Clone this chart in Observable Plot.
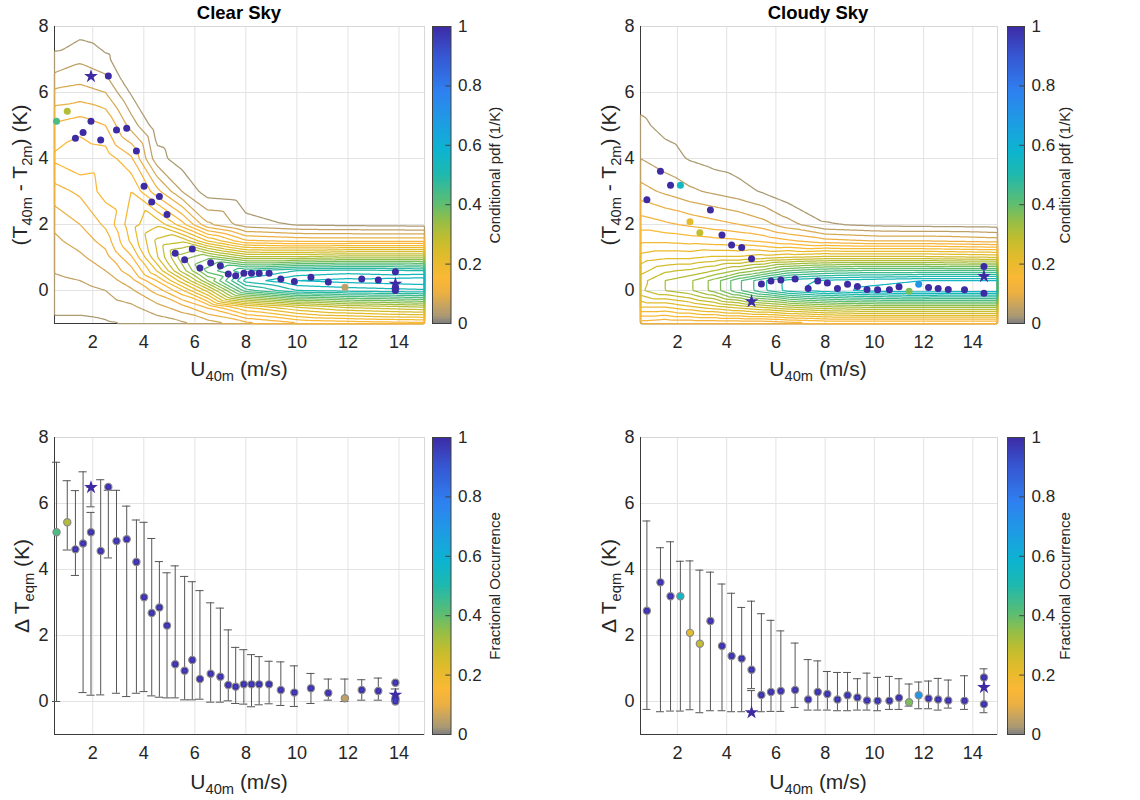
<!DOCTYPE html>
<html><head><meta charset="utf-8">
<script src="https://cdn.jsdelivr.net/npm/d3@7"></script>
<script src="https://cdn.jsdelivr.net/npm/@observablehq/plot@0.6"></script>
<style>
body{margin:0;background:#fff;}
#root{position:relative;width:1140px;height:800px;font-family:"Liberation Sans",Arial,Helvetica,sans-serif;color:#262626;overflow:hidden;background:#fff}
#root svg{position:absolute;overflow:visible}
.lbl{position:absolute;white-space:nowrap;transform:translate(-50%,-50%);line-height:1}
.rot{transform:translate(-50%,-50%) rotate(-90deg)}
.title{font-weight:bold;font-size:18.5px;color:#000}
.axl{font-size:21px}
.cbl{font-size:15px}
sub{font-size:70%;vertical-align:-0.35em;line-height:0}
</style></head><body><div id="root"></div><script>
// ---------- data ----------
// conditional pdf grid (1/K), columns at wind speeds gridU, rows at gridT (top to bottom)
const gridU = [0.5, 1.5, 2.5, 3.5, 4.5, 5.5, 6.5, 8, 10, 12, 15];
const gridT = [8, 7, 6, 5, 4, 3, 2, 1.5, 1, 0.6, 0.3, 0, -0.5, -1];
const clearPdf = [
  [0.01, 0.03, 0.08, 0.13, 0.155, 0.115, 0.08, 0.07, 0.06, 0.052, 0.045, 0.04, 0.03, 0.02],
  [0.012, 0.045, 0.085, 0.14, 0.17, 0.13, 0.1, 0.085, 0.07, 0.058, 0.05, 0.042, 0.03, 0.02],
  [0.005, 0.03, 0.075, 0.125, 0.165, 0.16, 0.13, 0.11, 0.09, 0.075, 0.06, 0.05, 0.035, 0.022],
  [0, 0.004, 0.022, 0.065, 0.13, 0.175, 0.19, 0.18, 0.145, 0.115, 0.09, 0.07, 0.045, 0.026],
  [0, 0, 0.003, 0.01, 0.035, 0.11, 0.22, 0.255, 0.245, 0.2, 0.15, 0.11, 0.065, 0.035],
  [0, 0, 0, 0.004, 0.012, 0.05, 0.16, 0.27, 0.34, 0.31, 0.24, 0.17, 0.09, 0.045],
  [0, 0, 0, 0, 0.004, 0.012, 0.08, 0.2, 0.37, 0.41, 0.35, 0.26, 0.13, 0.06],
  [0, 0, 0, 0, 0.002, 0.006, 0.035, 0.13, 0.31, 0.47, 0.51, 0.44, 0.2, 0.09],
  [0, 0, 0, 0, 0, 0.003, 0.022, 0.12, 0.31, 0.5, 0.55, 0.5, 0.25, 0.12],
  [0, 0, 0, 0, 0, 0.002, 0.018, 0.12, 0.32, 0.51, 0.56, 0.51, 0.28, 0.13],
  [0, 0, 0, 0, 0, 0.002, 0.015, 0.12, 0.32, 0.5, 0.57, 0.52, 0.3, 0.14]
];
const cloudyPdf = [
  [0, 0.005, 0.015, 0.03, 0.05, 0.085, 0.14, 0.17, 0.21, 0.24, 0.265, 0.27, 0.2, 0.11],
  [0, 0.002, 0.008, 0.018, 0.035, 0.07, 0.13, 0.17, 0.22, 0.27, 0.3, 0.3, 0.2, 0.1],
  [0, 0, 0.004, 0.012, 0.023, 0.055, 0.12, 0.165, 0.22, 0.28, 0.32, 0.32, 0.22, 0.1],
  [0, 0, 0.002, 0.006, 0.015, 0.045, 0.11, 0.16, 0.23, 0.3, 0.36, 0.36, 0.24, 0.1],
  [0, 0, 0, 0.003, 0.01, 0.035, 0.1, 0.155, 0.23, 0.33, 0.42, 0.42, 0.26, 0.1],
  [0, 0, 0, 0, 0.005, 0.022, 0.085, 0.145, 0.24, 0.36, 0.47, 0.47, 0.28, 0.1],
  [0, 0, 0, 0, 0.002, 0.006, 0.06, 0.13, 0.25, 0.4, 0.51, 0.51, 0.3, 0.11],
  [0, 0, 0, 0, 0, 0.003, 0.027, 0.11, 0.26, 0.42, 0.53, 0.54, 0.32, 0.12],
  [0, 0, 0, 0, 0, 0.002, 0.018, 0.1, 0.26, 0.43, 0.54, 0.56, 0.33, 0.12],
  [0, 0, 0, 0, 0, 0.002, 0.015, 0.1, 0.26, 0.43, 0.55, 0.57, 0.33, 0.12],
  [0, 0, 0, 0, 0, 0.001, 0.012, 0.09, 0.25, 0.43, 0.55, 0.565, 0.33, 0.12]
];
const pdfLevels = [0.025, 0.05, 0.075, 0.1, 0.125, 0.15, 0.175, 0.2, 0.225, 0.25, 0.275, 0.3,
  0.325, 0.35, 0.375, 0.4, 0.425, 0.45, 0.475, 0.5, 0.525, 0.55];

// equilibrium temperature differences (clear sky)
const clearU = [0.58, 1.0, 1.32, 1.62, 1.93, 2.31, 2.61, 2.93, 3.33, 3.71, 4.01, 4.31, 4.61, 4.91, 5.23, 5.6, 5.9, 6.2,
  6.62, 7.0, 7.31, 7.6, 7.92, 8.22, 8.52, 8.91, 9.37, 9.9, 10.55, 11.23, 11.88, 12.54, 13.19, 13.86, 13.86, 13.86];
const clearDT = [5.13, 5.43, 4.61, 4.79, 5.13, 4.56, 6.5, 4.86, 4.92, 4.23, 3.16, 2.68, 2.85, 2.30, 1.13, 0.93, 1.26, 0.68,
  0.84, 0.75, 0.50, 0.45, 0.52, 0.52, 0.52, 0.52, 0.35, 0.27, 0.40, 0.26, 0.10, 0.35, 0.32, 0.57, 0.10, 0.0];
const clearFrac = [0.43, 0.3, 1, 1, 1, 1, 1, 1, 1, 1, 1, 1, 1, 1, 1, 1, 1, 1,
  1, 1, 1, 1, 1, 1, 1, 1, 1, 1, 1, 1, 0.05, 1, 1, 1, 1, 1];
const clearLo = [0.0, 4.59, 3.82, 0.27, 0.19, 0.2, 4.35, 0.25, 0.15, 0.25, 0.3, 0.17, 0.13, 0.11, 0.11, 0.05, 0.05, 0.07,
  -0.02, -0.02, 0.02, -0.06, -0.08, -0.16, -0.1, -0.07, -0.12, -0.15, -0.06, 0.04, 0.0, 0.04, 0.04, null, null, null];
const clearHi = [7.25, 6.69, 6.39, 6.96, 5.73, 6.72, 6.4, 6.4, 5.92, 5.5, 5.43, 4.94, 4.24, 3.9, 4.11, 3.79, 3.63, 3.36,
  2.99, 2.83, 2.17, 1.64, 1.57, 1.42, 1.36, 1.22, 1.2, 1.08, 0.85, 0.68, 0.68, 0.66, 0.71, null, null, null];
const clearStarU = [1.93, 13.86];
const clearStarDT = [6.49, 0.2];
const clearStarLo = [5.9, 0.02];
const clearStarHi = [6.49, 0.38];

// equilibrium temperature differences (cloudy sky)
const cloudyU = [0.76, 1.31, 1.72, 2.12, 2.51, 2.91, 3.34, 3.81, 4.2, 4.61, 5.01, 5.41, 5.8, 6.2, 6.78, 7.31, 7.7,
  8.09, 8.5, 8.91, 9.31, 9.7, 10.13, 10.61, 11.0, 11.41, 11.8, 12.2, 12.59, 13.0, 13.66, 14.45, 14.45];
const cloudyDT = [2.75, 3.61, 3.19, 3.19, 2.08, 1.75, 2.44, 1.68, 1.38, 1.3, 0.96, 0.2, 0.29, 0.32, 0.35, 0.06, 0.29,
  0.23, 0.06, 0.19, 0.12, 0.03, 0.02, 0.02, 0.11, -0.02, 0.19, 0.09, 0.06, 0.03, 0.02, 0.73, -0.08];
const cloudyFrac = [1, 1, 1, 0.55, 0.22, 0.28, 1, 1, 1, 1, 1, 1, 1, 1, 1, 1, 1,
  1, 1, 1, 1, 1, 1, 1, 1, 0.37, 0.7, 1, 1, 1, 1, 1, 1];
const cloudyLo = [-0.24, -0.31, -0.29, -0.29, -0.25, -0.34, -0.28, -0.28, -0.31, -0.31, 0.39, -0.31, -0.3, -0.3, -0.18, -0.26, -0.26,
  -0.26, -0.28, -0.28, -0.26, -0.26, -0.28, -0.24, -0.24, -0.14, -0.22, -0.22, -0.26, -0.2, -0.24, -0.34, null];
const cloudyHi = [5.47, 4.66, 4.84, 4.25, 4.26, 3.98, 3.92, 3.56, 3.28, 2.85, 3.04, 2.66, 2.46, 2.14, 1.77, 1.27, 1.23,
  0.91, 0.88, 0.88, 0.69, 0.86, 0.73, 0.76, 0.69, 0.53, 0.59, 0.62, 0.7, 0.65, 0.78, 0.99, null];
const cloudyStarU = [5.01, 14.45];
const cloudyStarDT = [-0.33, 0.43];
const cloudyStarLo = [-0.33, null];
const cloudyStarHi = [0.33, null];

const xTicks = [2, 4, 6, 8, 10, 12, 14];
const yTicks = [0, 2, 4, 6, 8];
const cbTicks = [0, 0.2, 0.4, 0.6, 0.8, 1];

// ---------- styling ----------
const cmapPos = [0, 0.025, 0.05, 0.1, 0.15, 0.22, 0.28, 0.34, 0.4, 0.5, 0.58, 0.68, 0.78, 0.9, 1];
const cmapCol = ["#808080", "#ab9a72", "#c0a165", "#ecb043", "#fbb836", "#e3bb2b", "#c4bd2e", "#98be45",
  "#5fbd70", "#1eb8ad", "#0cb4cf", "#1e9be4", "#2f80f0", "#3657d3", "#3d2ba4"];
const cmapScale = d3.scaleLinear(cmapPos, cmapCol).interpolate(d3.interpolateRgb).clamp(true);
const cmap = t => cmapScale(t);
const colorScale = {type: "linear", domain: [0, 1], interpolate: cmap};
const FONT = '"Liberation Sans", Arial, Helvetica, sans-serif';
const root = document.getElementById("root");

function gridRows(cols) {
  return gridU.flatMap((u, i) => gridT.map((t, j) => ({u, t, p: cols[i][j]})));
}
function pts(U, T, F, L, H) {
  return U.map((u, i) => ({u, t: T[i], f: F ? F[i] : 1, lo: L ? L[i] : null, hi: H ? H[i] : null}));
}
function place(svg, left, top) {
  svg.style.left = left + "px";
  svg.style.top = top + "px";
  root.appendChild(svg);
}
function label(html, x, y, cls) {
  const d = document.createElement("div");
  d.className = "lbl " + cls;
  d.innerHTML = html;
  d.style.left = x + "px";
  d.style.top = y + "px";
  root.appendChild(d);
}

const commonAxes = () => [
  Plot.gridX(xTicks, {stroke: "#e3e3e3", strokeOpacity: 1}),
  Plot.gridY(yTicks, {stroke: "#e3e3e3", strokeOpacity: 1}),
  Plot.frame({stroke: "#d8d8d8"}),
  Plot.ruleX([0.5], {stroke: "#3a3a3a"}),
  Plot.ruleY([-1], {stroke: "#3a3a3a"}),
  Plot.axisX(xTicks, {tickSize: 0, tickPadding: 12, fontSize: 18, fill: "#262626", label: null}),
  Plot.axisY(yTicks, {tickSize: 0, tickPadding: 6, fontSize: 18, fill: "#262626", label: null})
];

function topPanel(cols, points, stars, W, mL, mR) {
  return Plot.plot({
    width: W, height: 400, marginLeft: mL, marginRight: mR, marginTop: 26, marginBottom: 77,
    x: {domain: [0.5, 15]}, y: {domain: [-1, 8]},
    color: colorScale,
    style: {fontFamily: FONT, background: "transparent"},
    marks: [
      ...commonAxes(),
      Plot.contour(gridRows(cols), {x: "u", y: "t", value: "p", stroke: "value", fill: "none",
        interpolate: "barycentric", thresholds: pdfLevels, strokeWidth: 1.25}),
      Plot.dot(points, {x: "u", y: "t", fill: "f", r: 3.5}),
      Plot.dot(stars, {x: "u", y: "t", fill: "f", r: 4.3, symbol: "star"})
    ]
  });
}

function bottomPanel(points, stars, W, mL, mR) {
  const bars = [...points, ...stars].filter(d => d.lo != null);
  return Plot.plot({
    width: W, height: 400, marginLeft: mL, marginRight: mR, marginTop: 37, marginBottom: 66,
    x: {domain: [0.5, 15]}, y: {domain: [-1, 8]},
    color: colorScale,
    style: {fontFamily: FONT, background: "transparent"},
    marks: [
      ...commonAxes(),
      Plot.ruleX(bars, {x: "u", y1: "lo", y2: "hi", stroke: "#555", strokeWidth: 1}),
      Plot.ruleY(bars, {y: "lo", x1: d => d.u - 0.16, x2: d => d.u + 0.16, stroke: "#555"}),
      Plot.ruleY(bars, {y: "hi", x1: d => d.u - 0.16, x2: d => d.u + 0.16, stroke: "#555"}),
      Plot.dot(points, {x: "u", y: "t", fill: "f", r: 3.6, stroke: "#8a8a8a", strokeWidth: 1.2}),
      Plot.dot(points.filter(d => d.f > 0.9), {x: "u", y: "t", fill: "#3f3fc4", r: 1.7, symbol: "square"}),
      Plot.dot(stars, {x: "u", y: "t", fill: "f", r: 4.3, symbol: "star"})
    ]
  });
}

function colorbar(mT, mB, barW) {
  const steps = d3.range(150);
  return Plot.plot({
    width: 110, height: 400, marginLeft: 0, marginRight: 110 - barW, marginTop: mT, marginBottom: mB,
    x: {domain: [0, 1], axis: null}, y: {domain: [0, 1]},
    color: colorScale,
    style: {fontFamily: FONT, background: "transparent"},
    marks: [
      Plot.rect(steps, {x1: 0, x2: 1, y1: i => i / 150, y2: i => (i + 1.02) / 150, fill: i => (i + 0.5) / 150, shapeRendering: "crispEdges"}),
      Plot.frame({stroke: "#404040"}),
      Plot.ruleY(cbTicks.slice(1, -1), {x1: 0.72, x2: 1, stroke: "#404040"}),
      Plot.axisY(cbTicks, {anchor: "right", tickSize: 0, tickPadding: 7, fontSize: 17, fill: "#262626",
        label: null, tickFormat: d => String(+d.toFixed(1))})
    ]
  });
}

const clearPts = pts(clearU, clearDT, clearFrac, clearLo, clearHi);
const clearStars = pts(clearStarU, clearStarDT, null, clearStarLo, clearStarHi);
const cloudyPts = pts(cloudyU, cloudyDT, cloudyFrac, cloudyLo, cloudyHi);
const cloudyStars = pts(cloudyStarU, cloudyStarDT, null, cloudyStarLo, cloudyStarHi);

// top-left: frame 54-424, top-right: frame 640-997
place(topPanel(clearPdf, clearPts, clearStars, 560, 54, 136), 0, 0);
place(topPanel(cloudyPdf, cloudyPts, cloudyStars, 570, 70, 143), 570, 0);
place(bottomPanel(clearPts, clearStars, 560, 54, 136), 0, 400);
place(bottomPanel(cloudyPts, cloudyStars, 570, 70, 143), 570, 400);

place(colorbar(26, 77, 18.5), 432, 0);
place(colorbar(26, 77, 17), 1006.5, 0);
place(colorbar(37, 66, 18.5), 432, 400);
place(colorbar(37, 66, 17), 1006.5, 400);

// text
label("Clear Sky", 239, 13, "title");
label("Cloudy Sky", 818, 13, "title");
label("U<sub>40m</sub> (m/s)", 239, 368, "axl");
label("U<sub>40m</sub> (m/s)", 818, 368, "axl");
label("U<sub>40m</sub> (m/s)", 239, 781, "axl");
label("U<sub>40m</sub> (m/s)", 818, 781, "axl");
label("(T<sub>40m</sub> - T<sub>2m</sub>) (K)", 19, 175, "axl rot");
label("(T<sub>40m</sub> - T<sub>2m</sub>) (K)", 608, 175, "axl rot");
label("&Delta; T<sub>eqm</sub> (K)", 21, 586, "axl rot");
label("&Delta; T<sub>eqm</sub> (K)", 608, 586, "axl rot");
label("Conditional pdf (1/K)", 494, 175, "cbl rot");
label("Conditional pdf (1/K)", 1064, 175, "cbl rot");
label("Fractional Occurrence", 494, 586, "cbl rot");
label("Fractional Occurrence", 1064, 586, "cbl rot");
</script></body></html>
